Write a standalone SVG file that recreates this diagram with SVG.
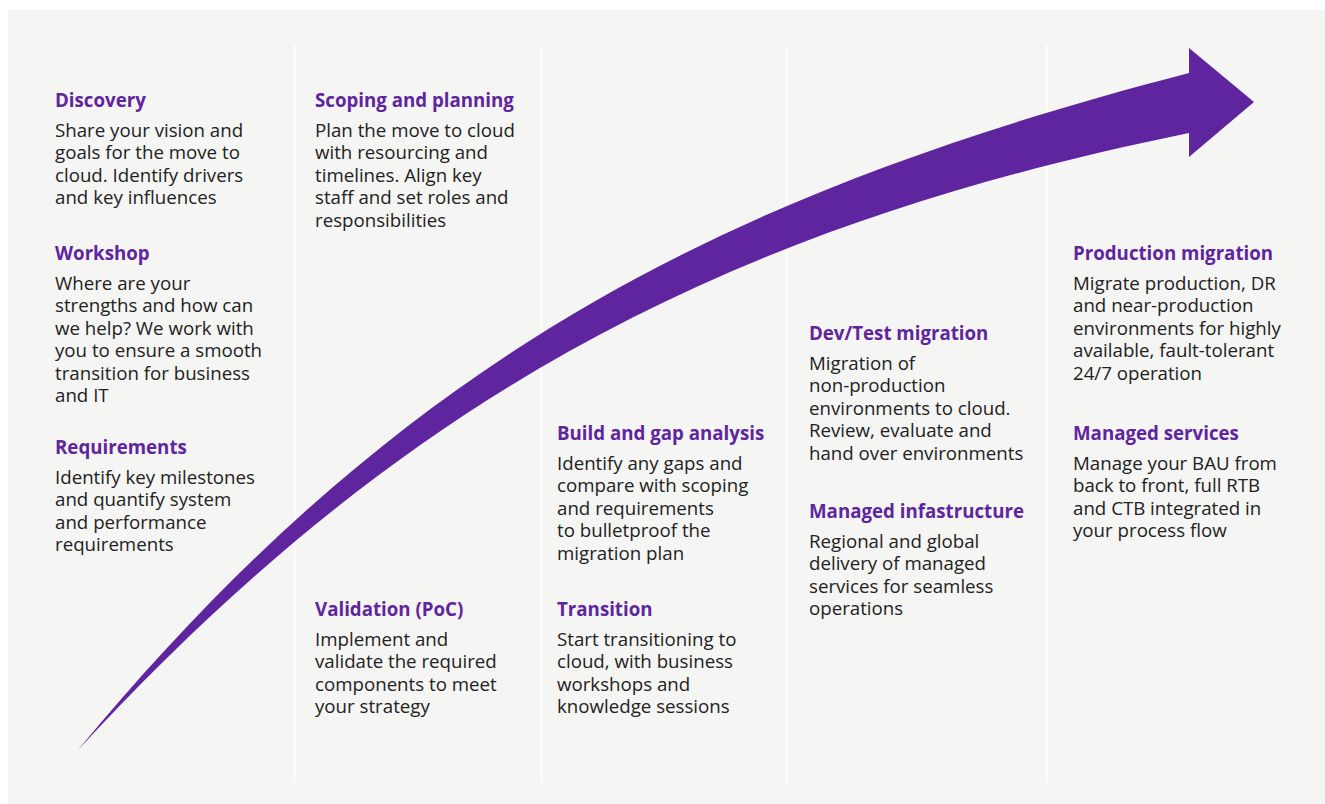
<svg xmlns="http://www.w3.org/2000/svg" width="1325" height="804" viewBox="0 0 1325 804">
<style>
.t{font-family:"Open Sans","Noto Sans","Liberation Sans",sans-serif;font-size:18.7px;font-weight:700;fill:#5f259f}
.b{font-family:"Open Sans","Noto Sans","Liberation Sans",sans-serif;font-size:18.7px;fill:#222222}
.div{stroke:#ffffff;stroke-width:1.6}
</style>
<rect x="0" y="0" width="1325" height="804" fill="#ffffff"/>
<rect x="8" y="10" width="1317" height="794" fill="#f5f5f3"/>
<g id="dividers">
<line class="div" x1="294.5" y1="45" x2="294.5" y2="782"/>
<line class="div" x1="541.5" y1="45" x2="541.5" y2="782"/>
<line class="div" x1="787" y1="45" x2="787" y2="782"/>
<line class="div" x1="1047" y1="45" x2="1047" y2="782"/>
</g>
<g id="connectors">
<path d="M78,750 C402,358.5 720,195 1189,73 L1189,48 L1254,102 L1189,157 L1189,133 C720,228.7 402,399 78,750 Z" fill="#5f259f"/>
</g>
<g id="discovery">
<text class="t" x="55" y="107">Discovery</text>
<text class="b" x="55" y="137">Share your vision and</text>
<text class="b" x="55" y="159.4">goals for the move to</text>
<text class="b" x="55" y="181.8">cloud. Identify drivers</text>
<text class="b" x="55" y="204.2">and key influences</text>
</g>
<g id="workshop">
<text class="t" x="55" y="260">Workshop</text>
<text class="b" x="55" y="290">Where are your</text>
<text class="b" x="55" y="312.4">strengths and how can</text>
<text class="b" x="55" y="334.8">we help? We work with</text>
<text class="b" x="55" y="357.2">you to ensure a smooth</text>
<text class="b" x="55" y="379.6">transition for business</text>
<text class="b" x="55" y="402">and IT</text>
</g>
<g id="requirements">
<text class="t" x="55" y="454">Requirements</text>
<text class="b" x="55" y="484">Identify key milestones</text>
<text class="b" x="55" y="506.4">and quantify system</text>
<text class="b" x="55" y="528.8">and performance</text>
<text class="b" x="55" y="551.2">requirements</text>
</g>
<g id="scoping">
<text class="t" x="315" y="107">Scoping and planning</text>
<text class="b" x="315" y="137">Plan the move to cloud</text>
<text class="b" x="315" y="159.4">with resourcing and</text>
<text class="b" x="315" y="181.8">timelines. Align key</text>
<text class="b" x="315" y="204.2">staff and set roles and</text>
<text class="b" x="315" y="226.6">responsibilities</text>
</g>
<g id="validation">
<text class="t" x="315" y="616">Validation (PoC)</text>
<text class="b" x="315" y="646">Implement and</text>
<text class="b" x="315" y="668.4">validate the required</text>
<text class="b" x="315" y="690.8">components to meet</text>
<text class="b" x="315" y="713.2">your strategy</text>
</g>
<g id="build">
<text class="t" x="557" y="440">Build and gap analysis</text>
<text class="b" x="557" y="470">Identify any gaps and</text>
<text class="b" x="557" y="492.4">compare with scoping</text>
<text class="b" x="557" y="514.8">and requirements</text>
<text class="b" x="557" y="537.2">to bulletproof the</text>
<text class="b" x="557" y="559.6">migration plan</text>
</g>
<g id="transition">
<text class="t" x="557" y="616">Transition</text>
<text class="b" x="557" y="646">Start transitioning to</text>
<text class="b" x="557" y="668.4">cloud, with business</text>
<text class="b" x="557" y="690.8">workshops and</text>
<text class="b" x="557" y="713.2">knowledge sessions</text>
</g>
<g id="devtest">
<text class="t" x="809" y="340">Dev/Test migration</text>
<text class="b" x="809" y="370">Migration of</text>
<text class="b" x="809" y="392.4">non-production</text>
<text class="b" x="809" y="414.8">environments to cloud.</text>
<text class="b" x="809" y="437.2">Review, evaluate and</text>
<text class="b" x="809" y="459.6">hand over environments</text>
</g>
<g id="managed-infra">
<text class="t" x="809" y="518">Managed infastructure</text>
<text class="b" x="809" y="548">Regional and global</text>
<text class="b" x="809" y="570.4">delivery of managed</text>
<text class="b" x="809" y="592.8">services for seamless</text>
<text class="b" x="809" y="615.2">operations</text>
</g>
<g id="production">
<text class="t" x="1073" y="260">Production migration</text>
<text class="b" x="1073" y="290">Migrate production, DR</text>
<text class="b" x="1073" y="312.4">and near-production</text>
<text class="b" x="1073" y="334.8">environments for highly</text>
<text class="b" x="1073" y="357.2">available, fault-tolerant</text>
<text class="b" x="1073" y="379.6">24/7 operation</text>
</g>
<g id="managed-services">
<text class="t" x="1073" y="440">Managed services</text>
<text class="b" x="1073" y="470">Manage your BAU from</text>
<text class="b" x="1073" y="492.4">back to front, full RTB</text>
<text class="b" x="1073" y="514.8">and CTB integrated in</text>
<text class="b" x="1073" y="537.2">your process flow</text>
</g>
</svg>
